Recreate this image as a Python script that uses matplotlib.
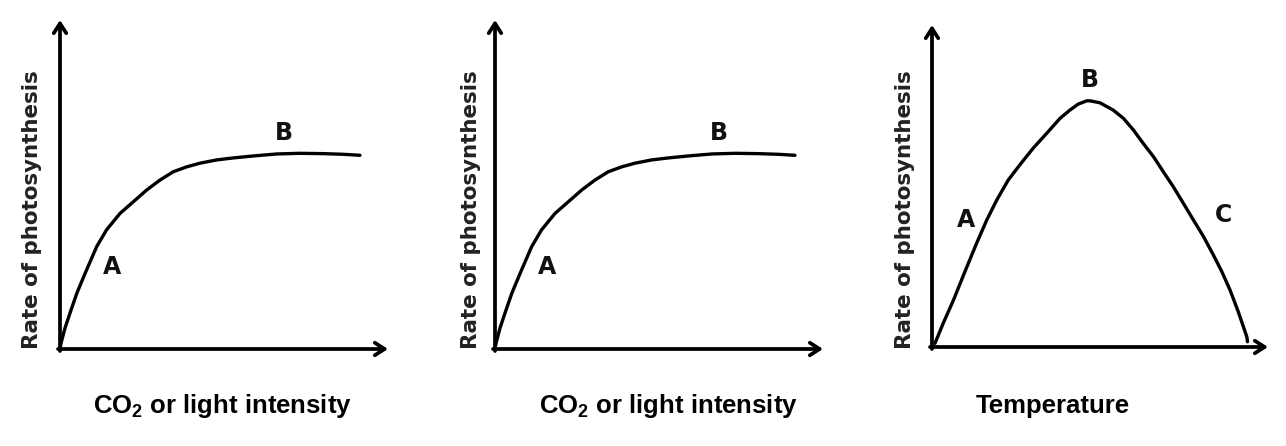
import matplotlib
matplotlib.use("Agg")
import matplotlib.pyplot as plt

W, H = 1286, 446
PX = 3.3  # pixels per data unit

# saturating curve (CO2 / light intensity), shared by panels 1 and 2
SAT_X = [0, 0.3, 1.5, 3.0, 5.1, 7.6, 11.1, 14.1, 18.2, 22.2, 26.3, 30.3,
         34.3, 38.4, 42.4, 47.5, 52.5, 58.6, 65.7, 72.7, 79.8, 85.9, 90.9]
SAT_Y = [0, 1.7, 6.3, 10.8, 16.9, 22.9, 31.0, 36.1, 41.1, 44.6, 48.2, 51.2,
         53.7, 55.2, 56.3, 57.3, 57.9, 58.5, 59.1, 59.3, 59.2, 59.0, 58.7]
SAT_LABELS = [("A", 15.8, 24.8), ("B", 67.9, 65.5)]

# temperature curve (rise, optimum, fall)
TEMP_X = [0.9, 3.4, 6.5, 10.0, 13.5, 16.6, 19.6, 23.1, 26.7, 30.7, 34.8,
          38.8, 41.8, 44.3, 46.9, 47.9, 50.9, 54.9, 58.0, 61.0, 64.0, 67.1,
          70.1, 73.1, 76.2, 79.2, 82.2, 85.2, 87.8, 90.3, 92.8, 95.4, 95.6]
TEMP_Y = [1.1, 7.2, 14.2, 22.9, 31.4, 38.5, 44.5, 50.6, 55.3, 60.3, 64.8,
          69.3, 71.8, 73.6, 74.6, 74.6, 74.0, 71.8, 69.3, 65.8, 61.7, 57.7,
          53.1, 48.6, 43.5, 38.5, 33.6, 28.0, 22.9, 17.3, 10.7, 3.1, 1.6]
TEMP_LABELS = [("A", 10.3, 38.5), ("B", 47.9, 80.9), ("C", 88.2, 40.0)]

Y_LABEL = "Rate of photosynthesis"
X_LABELS = ["CO$_2$ or light intensity", "CO$_2$ or light intensity", "Temperature"]

plt.rcParams.update({
    "mathtext.fontset": "custom",
    "mathtext.rm": "Liberation Sans:bold",
    "mathtext.it": "Liberation Sans:bold",
    "mathtext.bf": "Liberation Sans:bold",
})

fig = plt.figure(figsize=(W / 100, H / 100), dpi=100)


def draw_panel(ox, oy, xtip, ytip, xs, ys, labels):
    w, h = xtip - ox, oy - ytip
    ax = fig.add_axes([ox / W, (H - oy) / H, w / W, h / H])
    xmax, ymax = w / PX, h / PX
    ax.set_xlim(0, xmax)
    ax.set_ylim(0, ymax)
    ax.axis("off")
    arrow = dict(arrowstyle="->,head_length=0.7,head_width=0.45",
                 lw=2.7, color="black", shrinkA=0, shrinkB=0)
    ax.annotate("", xy=(xmax, 0), xytext=(-0.6, 0), arrowprops=arrow,
                annotation_clip=False)
    ax.annotate("", xy=(0, ymax), xytext=(0, -0.6), arrowprops=arrow,
                annotation_clip=False)
    ax.plot(xs, ys, color="black", lw=2.4, solid_capstyle="round",
            solid_joinstyle="round", clip_on=False)
    for txt, x, y in labels:
        ax.text(x, y, txt, fontsize=17, ha="center", va="center",
                family="DejaVu Sans", fontweight="bold", color="#111111")
    return ax


draw_panel(60, 349, 388, 20, SAT_X, SAT_Y, SAT_LABELS)
draw_panel(495, 349, 823, 20, SAT_X, SAT_Y, SAT_LABELS)
draw_panel(932, 347, 1268, 25, TEMP_X, TEMP_Y, TEMP_LABELS)

# axis titles
for cx in [32, 471, 905]:
    fig.text(cx / W, 1 - 210 / H, Y_LABEL, rotation=90, ha="center",
             va="center", fontsize=15.4, fontweight="bold", color="#222222",
             family="DejaVu Sans")
for cx, lab in zip([222, 668, 1053], X_LABELS):
    fig.text(cx / W, 1 - 406 / H, lab, ha="center", va="center",
             fontsize=18.5, fontweight="bold", family="Liberation Sans")

fig.savefig("out.png", dpi=100, facecolor="white")
